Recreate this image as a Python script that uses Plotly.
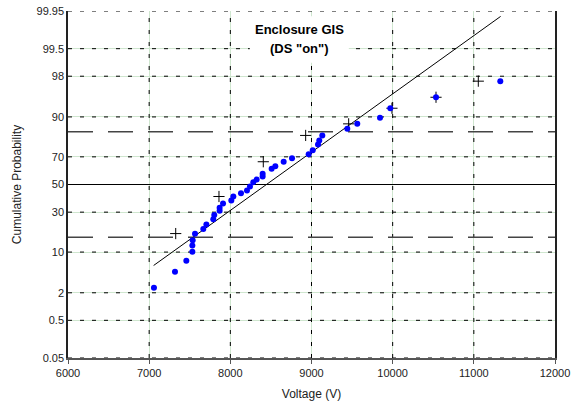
from statistics import NormalDist
import plotly.graph_objects as go

# ---- data ----
volt_blue = [7059, 7318, 7458, 7532, 7532, 7536, 7565, 7667, 7705, 7790, 7802,
             7868, 7868, 7910, 8012, 8037, 8131, 8205, 8242, 8283, 8324, 8398,
             8398, 8509, 8554, 8657, 8760, 8965, 9015, 9080, 9096, 9133, 9441,
             9564, 9844, 9971, 10534, 11326]
prob_blue = [2.5, 4.9, 7.4, 10.1, 12.4, 14.5, 17.5, 20.0, 22.4, 25.5, 28.2,
             30.9, 33.0, 36.0, 38.0, 41.0, 43.4, 45.5, 48.5, 51.7, 53.8, 56.0,
             58.0, 61.7, 63.6, 66.7, 69.0, 71.7, 74.2, 77.6, 79.8, 82.4, 85.5,
             87.5, 89.7, 92.6, 95.1, 97.5]

volt_plus = [7327, 7860, 8406, 8928, 9458, 9991, 10534, 11055]
prob_plus = [17.6, 41.0, 66.7, 82.4, 87.5, 92.6, 95.1, 97.5]

fit_mean = 8445
fit_sigma = 905
fit_volt = [7055, 11330]

prob_ticks = [0.05, 0.5, 2, 10, 30, 50, 70, 90, 98, 99.5, 99.95]
prob_tick_text = ["0.05", "0.5", "2", "10", "30", "50", "70", "90", "98", "99.5", "99.95"]
sigma_lines = [15.87, 84.13]
median_line = [50]
volt_ticks = [6000, 7000, 8000, 9000, 10000, 11000, 12000]
volt_tick_text = ["6000", "7000", "8000", "9000", "10000", "11000", "12000"]

title_lines = ["Enclosure GIS", "(DS \"on\")"]

nd = NormalDist()
def z(p):
    return nd.inv_cdf(p / 100.0)

zmax = z(99.95)

fig = go.Figure()

# fit line
fig.add_trace(go.Scatter(
    x=fit_volt, y=[(v - fit_mean) / fit_sigma for v in fit_volt],
    mode="lines", line=dict(color="black", width=1), hoverinfo="skip"))

fig.add_trace(go.Scatter(
    x=volt_plus, y=[z(p) for p in prob_plus], mode="markers",
    marker=dict(symbol="cross-thin", size=8, line=dict(color="black", width=1))))

fig.add_trace(go.Scatter(
    x=volt_blue, y=[z(p) for p in prob_blue], mode="markers",
    marker=dict(symbol="circle", size=6, color="#0000ff")))

shapes = []
# black dashes over the green grid
for v in volt_ticks[1:-1]:
    shapes.append(dict(type="line", xref="x", yref="y", x0=v, x1=v, y0=-zmax, y1=zmax,
                       line=dict(color="black", width=1, dash="4px,8px"), layer="between"))
for p in prob_ticks:
    if p == 50:
        continue
    shapes.append(dict(type="line", xref="x", yref="y", x0=6000, x1=12000, y0=z(p), y1=z(p),
                       line=dict(color="black", width=1, dash="4px,8px"), layer="between"))
for p in sigma_lines:
    shapes.append(dict(type="line", xref="x", yref="y", x0=6000, x1=12000, y0=z(p), y1=z(p),
                       line=dict(color="#444444", width=1.5, dash="25px,15px"), layer="between"))
for p in median_line:
    shapes.append(dict(type="line", xref="x", yref="y", x0=6000, x1=12000, y0=z(p), y1=z(p),
                       line=dict(color="black", width=1), layer="between"))
# white box behind the title
shapes.append(dict(type="rect", xref="x", yref="y", x0=8240, x1=9460, y0=2.31, y1=3.19,
                   fillcolor="white", line=dict(width=0), layer="between"))

fig.update_layout(
    width=577, height=403,
    margin=dict(l=68, r=22, t=11, b=45),
    paper_bgcolor="white", plot_bgcolor="white",
    showlegend=False, hovermode=False,
    font=dict(family="Liberation Sans, Arial, sans-serif", size=11, color="#222222"),
    shapes=shapes,
    annotations=[
        dict(xref="x", yref="y", x=8846, y=2.94, text="<b>" + title_lines[0] + "</b>",
             showarrow=False, font=dict(size=13, color="black")),
        dict(xref="x", yref="y", x=8846, y=2.58, text="<b>" + title_lines[1] + "</b>",
             showarrow=False, font=dict(size=13, color="black")),
    ],
)

fig.update_xaxes(
    range=[6000, 12000], tickvals=volt_ticks, ticktext=volt_tick_text,
    showgrid=True, gridcolor="#cfe6cf", gridwidth=1,
    showline=True, linecolor="#555555", linewidth=1.5,
    ticks="outside", ticklen=4, tickcolor="#555555",
    zeroline=False, automargin=False, ticklabeloverflow="allow",
    title=dict(text="Voltage (V)", font=dict(size=12), standoff=12),
)
fig.update_yaxes(
    range=[-zmax, zmax], tickvals=[z(p) for p in prob_ticks], ticktext=prob_tick_text,
    showgrid=True, gridcolor="#cfe6cf", gridwidth=1,
    showline=True, linecolor="#222222", linewidth=1.5, mirror=True,
    ticks="", zeroline=False, automargin=False, ticklabeloverflow="allow",
    title=dict(text="Cumulative Probability", font=dict(size=12), standoff=12),
)

fig.write_html("out.html", config={"displayModeBar": False},
               post_script="document.body.style.margin='0';")
